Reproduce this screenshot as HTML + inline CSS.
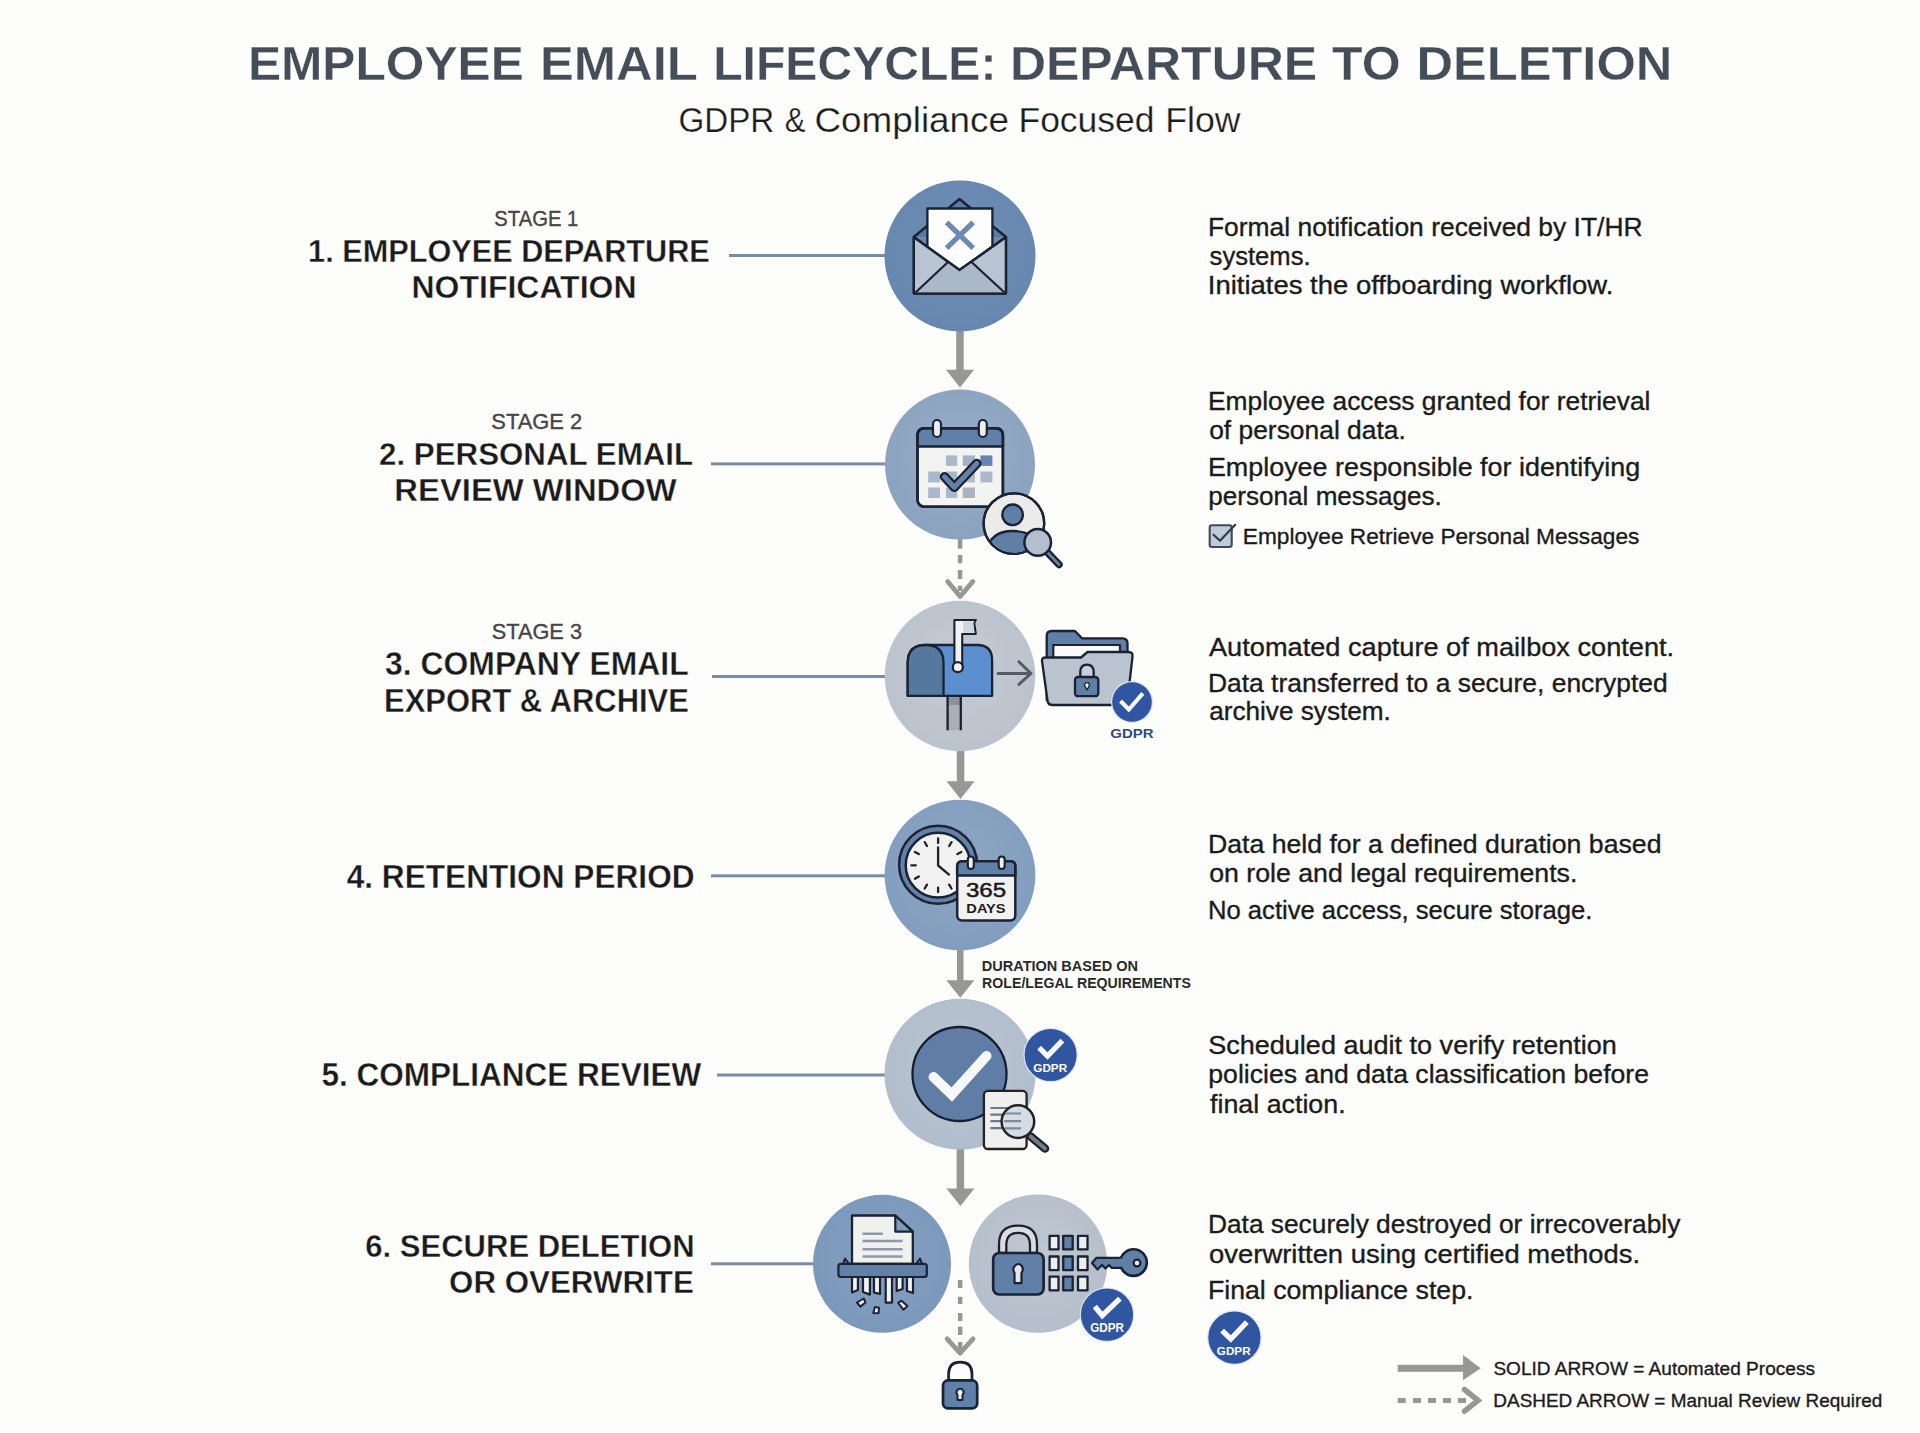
<!DOCTYPE html>
<html><head><meta charset="utf-8"><title>Employee Email Lifecycle</title>
<style>html,body{margin:0;padding:0;background:#fdfdfc;}svg{display:block;}</style></head>
<body><svg width="1920" height="1433" viewBox="0 0 1920 1433">
<rect width="1920" height="1433" fill="#fdfdfc"/>
<rect x="729.0" y="254.0" width="161.0" height="3" fill="#788ca6"/>
<rect x="711.0" y="462.4" width="179.0" height="3" fill="#788ca6"/>
<rect x="712.0" y="675.0" width="178.0" height="3" fill="#788ca6"/>
<rect x="711.0" y="874.3" width="179.0" height="3" fill="#788ca6"/>
<rect x="717.0" y="1073.5" width="173.0" height="3" fill="#788ca6"/>
<rect x="711.0" y="1262.3" width="109.0" height="3" fill="#788ca6"/>
<rect x="956.2" y="328.0" width="7.5" height="42.7" fill="#979797"/><path d="M946.0,369.7 L974.0,369.7 L960.0,387.5 Z" fill="#979797"/>
<rect x="957.8" y="539.0" width="4.5" height="9.7" fill="#979797"/><rect x="957.8" y="555.0" width="4.5" height="8.3" fill="#979797"/><rect x="957.8" y="570.0" width="4.5" height="9.0" fill="#979797"/><rect x="957.8" y="585.7" width="4.5" height="5.3" fill="#979797"/><path d="M947.7,581.5 L960.2,596.5 L972.8,581.5" fill="none" stroke="#979797" stroke-width="4.8" stroke-linecap="round" stroke-linejoin="round"/>
<rect x="956.8" y="748.0" width="7.5" height="34.2" fill="#979797"/><path d="M946.5,781.2 L974.5,781.2 L960.5,798.9 Z" fill="#979797"/>
<rect x="957.0" y="948.0" width="6.5" height="33.2" fill="#979797"/><path d="M946.3,980.2 L974.3,980.2 L960.3,997.8 Z" fill="#979797"/>
<rect x="956.6" y="1147.0" width="7.5" height="42.4" fill="#979797"/><path d="M946.4,1188.4 L974.4,1188.4 L960.4,1206.0 Z" fill="#979797"/>
<rect x="957.9" y="1280.0" width="4.5" height="8.0" fill="#979797"/><rect x="957.9" y="1296.8" width="4.5" height="7.2" fill="#979797"/><rect x="957.9" y="1313.0" width="4.5" height="8.0" fill="#979797"/><rect x="957.9" y="1326.6" width="4.5" height="8.4" fill="#979797"/><rect x="957.9" y="1342.0" width="4.5" height="8.0" fill="#979797"/><path d="M947.2,1338.8 L960.1,1353.2 L973.0,1338.8" fill="none" stroke="#979797" stroke-width="4.8" stroke-linecap="round" stroke-linejoin="round"/>
<defs><radialGradient id="g960256" cx="50%" cy="45%" r="60%"><stop offset="0" stop-color="#7090b5"/><stop offset="1" stop-color="#6586ae"/></radialGradient></defs><circle cx="960.0" cy="256.0" r="75.5" fill="url(#g960256)"/>
<defs><radialGradient id="g960464" cx="50%" cy="45%" r="60%"><stop offset="0" stop-color="#98adc6"/><stop offset="1" stop-color="#8aa2bf"/></radialGradient></defs><circle cx="960.0" cy="464.6" r="75.0" fill="url(#g960464)"/>
<defs><radialGradient id="g960676" cx="50%" cy="45%" r="60%"><stop offset="0" stop-color="#c6ccd5"/><stop offset="1" stop-color="#b9c1cc"/></radialGradient></defs><circle cx="960.0" cy="676.0" r="75.3" fill="url(#g960676)"/>
<defs><radialGradient id="g960875" cx="50%" cy="45%" r="60%"><stop offset="0" stop-color="#8ea7c4"/><stop offset="1" stop-color="#819cbd"/></radialGradient></defs><circle cx="960.0" cy="875.1" r="75.4" fill="url(#g960875)"/>
<defs><radialGradient id="g9601074" cx="50%" cy="45%" r="60%"><stop offset="0" stop-color="#bbc6d3"/><stop offset="1" stop-color="#afbccb"/></radialGradient></defs><circle cx="960.0" cy="1074.2" r="75.5" fill="url(#g9601074)"/>
<defs><radialGradient id="g8821263" cx="50%" cy="45%" r="60%"><stop offset="0" stop-color="#86a0c0"/><stop offset="1" stop-color="#7a97ba"/></radialGradient></defs><circle cx="882.0" cy="1263.8" r="69.0" fill="url(#g8821263)"/>
<defs><radialGradient id="g10381263" cx="50%" cy="45%" r="60%"><stop offset="0" stop-color="#c0c8d2"/><stop offset="1" stop-color="#b4bdc9"/></radialGradient></defs><circle cx="1038.0" cy="1263.6" r="69.2" fill="url(#g10381263)"/>
<g stroke="#1a2233" stroke-width="2.3" stroke-linejoin="round">
<path d="M913.8,237 L959.5,199 L1006,237 Z" fill="#5a7ba4" stroke="none"/>
<path d="M913.8,237 L959.5,199 L1006,237" fill="none"/>
<rect x="927.4" y="208.5" width="65" height="66" fill="#fdfdfd"/>
<path d="M946.6,222.4 L973.2,248.2 M973.2,222.4 L946.6,248.2" stroke="#6d89ae" stroke-width="5.2" stroke-linecap="butt"/>
<path d="M913.8,237 L959.5,270 L1006,237 L1006,293.6 L913.8,293.6 Z" fill="#b8c4d2"/>
<path d="M915.5,292.5 L947.5,262.5 L959.5,270 L972,262.5 L1004.5,292.5 Z" fill="#abb8c8" stroke="none"/>
<path d="M915.5,292.5 L947.5,262.5 M1004.5,292.5 L972,262.5" fill="none" stroke-width="2.2"/>
<path d="M913.8,237 L959.5,270 L1006,237 L1006,293.6 L913.8,293.6 Z" fill="none"/>
</g>
<g stroke="#1a2233" stroke-width="2.5" stroke-linejoin="round">
<rect x="917.5" y="428.2" width="85.4" height="78.6" rx="7" fill="#f3f3f2"/>
<path d="M917.5,446.6 L917.5,435.2 Q917.5,428.2 924.5,428.2 L995.9,428.2 Q1002.9,428.2 1002.9,435.2 L1002.9,446.6 Z" fill="#6080a8"/>
<rect x="917.5" y="428.2" width="85.4" height="78.6" rx="7" fill="none"/>
<rect x="933" y="420" width="8" height="17" rx="4" fill="#eeeeee" stroke-width="2.2"/>
<rect x="978.8" y="420" width="8" height="17" rx="4" fill="#eeeeee" stroke-width="2.2"/>
</g>
<g stroke="none">
<rect x="945.9" y="455.4" width="11.3" height="10.5" fill="#a9b8cb"/>
<rect x="962.7" y="455.4" width="12.3" height="10.5" fill="#a3b2c6"/>
<rect x="980.4" y="455.4" width="12" height="10.5" fill="#6585b0"/>
<rect x="928.2" y="471.5" width="11.8" height="10.9" fill="#a9b8cb"/>
<rect x="945.9" y="471.5" width="11.3" height="10.9" fill="#a9b8cb"/>
<rect x="962.7" y="471.5" width="12.3" height="10.9" fill="#b3bac4"/>
<rect x="980.4" y="471.5" width="12" height="10.9" fill="#a9b8cb"/>
<rect x="928.2" y="487.5" width="11.8" height="10.5" fill="#a9b8cb"/>
<rect x="945.9" y="487.5" width="11.3" height="10.5" fill="#a9b8cb"/>
<rect x="962.7" y="487.5" width="12.3" height="10.5" fill="#aab2bd"/>
</g>
<path d="M944.5,476.8 L954.3,487.3 L976.8,463.5" fill="none" stroke="#1a2233" stroke-width="9.5" stroke-linecap="round" stroke-linejoin="round"/>
<path d="M944.5,476.8 L954.3,487.3 L976.8,463.5" fill="none" stroke="#6282aa" stroke-width="5" stroke-linecap="round" stroke-linejoin="round"/>
<defs><clipPath id="bclip"><circle cx="1013.9" cy="523.6" r="29"/></clipPath></defs>
<circle cx="1013.9" cy="523.6" r="30.3" fill="#ebebea" stroke="#1a2233" stroke-width="2.3"/>
<g clip-path="url(#bclip)" stroke="#1a2233" stroke-width="2.3">
<path d="M986,552 Q990,531 1013,531 Q1036,531 1041,552 L1041,560 L986,560 Z" fill="#5f7fa6"/>
</g>
<circle cx="1013.9" cy="523.6" r="30.3" fill="none" stroke="#1a2233" stroke-width="2.3"/>
<circle cx="1012.6" cy="514.8" r="10.3" fill="#5f7fa6" stroke="#1a2233" stroke-width="2.3"/>
<path d="M1047.5,552.5 L1059,564.5" stroke="#1a2233" stroke-width="7.5" stroke-linecap="round"/>
<path d="M1047.5,552.5 L1059,564.5" stroke="#6b84a6" stroke-width="2.7" stroke-linecap="round"/>
<circle cx="1037.7" cy="542.4" r="13.3" fill="#b3bfcd" stroke="#1a2233" stroke-width="2.5"/>

<g stroke="#1a2233" stroke-width="2.3" stroke-linejoin="round">
<rect x="947.6" y="696" width="13.2" height="34.2" fill="#a9afb6" stroke="none"/>
<rect x="947.6" y="696" width="13.2" height="9" fill="#8c9299" stroke="none"/>
<path d="M947.6,696 L947.6,730.2 M960.8,696 L960.8,730.2" fill="none"/>
<path d="M907.7,695.8 L907.7,663 Q907.7,645 925.7,645 L977,645 Q992.1,645 992.1,660 L992.1,695.8 Z" fill="#5b8fcf"/>
<path d="M907.7,695.8 L907.7,663 Q907.7,645 925.6,645 Q943.5,645 943.5,663 L943.5,695.8 Z" fill="#55789f"/>
<path d="M954.4,667 L954.4,620 L975.8,620 L974.2,623 L975.8,634 L962.2,634 L962.2,667 Z" fill="#f3f3f3" stroke-width="2.1"/>
<path d="M963.2,621.2 L974.5,621.2 L973.2,623.2 L974.5,632.8 L963.2,632.8 Z" fill="#d0d5dc" stroke="none"/>
<circle cx="957.8" cy="667.2" r="5" fill="#f3f3f3" stroke-width="2.3"/>
</g>
<path d="M998,673.5 L1030.5,673.5 M1018.9,661.7 L1031,673.5 L1018.9,684.4" fill="none" stroke="#555b62" stroke-width="3" stroke-linecap="round" stroke-linejoin="round"/>
<g stroke="#1a2233" stroke-width="2.3" stroke-linejoin="round">
<path d="M1046.7,700 L1046.7,636 Q1046.7,631 1051.7,631 L1075,631 L1082,638.3 L1122.5,638.3 Q1127.5,638.3 1127.5,643.3 L1127.5,700 Z" fill="#5f7fa6"/>
<rect x="1053.3" y="645" width="66.7" height="30" fill="#fafafa" stroke-width="2.2"/>
<path d="M1042,661 Q1041.7,657.5 1045.5,657.5 L1081,657.5 L1087.5,652 L1128.5,652 Q1133,652 1132.5,656.5 L1127.5,700.5 Q1127,705 1122.5,705 L1052.5,705 Q1048,705 1047.5,700.5 Z" fill="#bac4cf"/>
<path d="M1080.3,678.5 L1080.3,672.5 Q1080.3,664.6 1087,664.6 Q1093.7,664.6 1093.7,672.5 L1093.7,678.5" fill="#c9d0d9" stroke-width="2.3"/>
<rect x="1075" y="677" width="23.3" height="19.2" rx="3" fill="#5f7fa6" stroke-width="2.3"/>
<path d="M1087,690 L1084.8,686 A2.4,2.4 0 1 1 1089.2,686 Z" fill="#eeeeee" stroke-width="1.4"/>
</g>

<circle cx="1132.0" cy="702.0" r="20.4" fill="#3156a1" stroke="#dfe6f2" stroke-width="1.2"/><path d="M1122.0,702.5 L1128.8,709.5 L1141.5,695.0" fill="none" stroke="#f7f9fc" stroke-width="4.1" stroke-linecap="square" stroke-linejoin="miter"/>
<circle cx="938.1" cy="864.8" r="39" fill="#6481a8" stroke="#1a2233" stroke-width="2.5"/>
<circle cx="938.1" cy="865.2" r="32.4" fill="#f1f1f1" stroke="#1a2233" stroke-width="2.5"/>
<path d="M938.1,843.0 L938.1,838.5 M949.2,846.0 L951.5,842.1 M957.4,854.1 L961.3,851.9 M960.4,865.3 L964.9,865.3 M957.4,876.4 L961.3,878.7 M949.2,884.6 L951.5,888.5 M938.1,887.6 L938.1,892.1 M927.0,884.6 L924.7,888.5 M918.8,876.4 L914.9,878.7 M915.8,865.3 L911.3,865.3 M918.8,854.1 L914.9,851.9 M927.0,846.0 L924.7,842.1 " stroke="#222" stroke-width="2.3" stroke-linecap="round"/>
<path d="M938.1,865.5 L938.1,847.3 M938.1,865.5 L949,874.6" stroke="#222" stroke-width="2.3" stroke-linecap="round" fill="none"/>
<g stroke="#1a2233" stroke-width="2.5" stroke-linejoin="round">
<rect x="957.2" y="861.2" width="58.1" height="59.3" rx="5" fill="#f2f2f2"/>
<path d="M957.2,875.4 L957.2,866.2 Q957.2,861.2 962.2,861.2 L1010.3,861.2 Q1015.3,861.2 1015.3,866.2 L1015.3,875.4 Z" fill="#6080a8"/>
<rect x="967.8" y="856.5" width="6" height="12.5" rx="3" fill="#f0f0f0" stroke-width="2.2"/>
<rect x="998.7" y="856.5" width="6" height="12.5" rx="3" fill="#f0f0f0" stroke-width="2.2"/>
</g>

<circle cx="959.5" cy="1074" r="47" fill="#5f7da5" stroke="#141e30" stroke-width="2.3"/>
<path d="M933.5,1077 L951.8,1094.5 L986.5,1056" fill="none" stroke="#f8f9fa" stroke-width="10" stroke-linecap="round" stroke-linejoin="miter"/>
<rect x="983.9" y="1090.8" width="42.7" height="58.2" rx="4" fill="#efefed" stroke="#222" stroke-width="2.3"/>
<path d="M990.4,1108 L1016,1108 M990.4,1114.6 L1020.6,1114.6 M990.4,1121.1 L1020.6,1121.1 M990.4,1128.2 L1020.6,1128.2" stroke="#6c7a8a" stroke-width="2.2"/>
<path d="M1030.7,1136.5 L1045,1148.5" stroke="#222" stroke-width="8.5" stroke-linecap="round"/>
<path d="M1030.7,1136.5 L1045,1148.5" stroke="#717e8e" stroke-width="4" stroke-linecap="round"/>
<circle cx="1017.9" cy="1121.6" r="16.3" fill="#d3dde7" stroke="#222" stroke-width="2.5"/>
<path d="M1005,1113.5 L1021,1113.5 M1004,1121.1 L1021,1121.1 M1005,1128.4 L1021,1128.4" stroke="#7d8b9b" stroke-width="2.2"/>

<circle cx="1050.6" cy="1055.0" r="26.6" fill="#3156a1" stroke="#dfe6f2" stroke-width="1.2"/><path d="M1041.0,1049.5 L1047.5,1056.0 L1060.5,1042.5" fill="none" stroke="#f7f9fc" stroke-width="5.3" stroke-linecap="square" stroke-linejoin="miter"/>
<g stroke="#1a2233" stroke-width="2.3" stroke-linejoin="round">
<path d="M852,1264 L852,1215.5 L895.3,1215.5 L912.8,1231.6 L912.8,1264 Z" fill="#f0f0ed"/>
<path d="M895.3,1215.5 L895.3,1231.6 L912.8,1231.6 Z" fill="#7f9bbd" stroke-width="2.2"/>
</g>
<path d="M862.5,1233.8 L882.7,1233.8 M862.5,1241.1 L902.6,1241.1 M862.5,1249.2 L902.6,1249.2 M862.5,1256.5 L902.6,1256.5" stroke="#8e97ad" stroke-width="2.5"/>
<g stroke="#1a2233" stroke-width="2.2" stroke-linejoin="round">
<path d="M852,1277 L852,1292.4 L857.9,1290 L857.9,1277 Z" fill="#f2f2f2"/>
<path d="M863,1277 L863,1292 L869.9,1294.6 L869.9,1277 Z" fill="#f2f2f2"/>
<path d="M874,1277 L874,1292.5 L880,1293.9 L880,1277 Z" fill="#f2f2f2"/>
<path d="M885.7,1277 L885.7,1302.7 L892,1302.7 L892,1277 Z" fill="#f2f2f2"/>
<path d="M896.7,1277 L896.7,1291 L902.6,1289 L902.6,1277 Z" fill="#f2f2f2"/>
<path d="M907,1277 L907,1291 L913,1293 L913,1277 Z" fill="#f2f2f2"/>
<path d="M857,1302.5 L863.7,1298.5 L865.5,1302.5 L860.3,1306.6 Z" fill="#f2f2f2" stroke-width="2"/>
<path d="M873.3,1313 L874.9,1307 L879,1307.7 L878.6,1313.3 Z" fill="#f2f2f2" stroke-width="2"/>
<path d="M898.2,1302.9 L901.6,1300.7 L907.4,1306.1 L903.4,1309.7 Z" fill="#f2f2f2" stroke-width="2"/>
<path d="M843,1263.8 L845,1258.5 L849,1263.8 M922,1263.8 L920,1258.5 L916,1263.8" fill="#6080a8" stroke-width="2"/>
<rect x="838.4" y="1263.8" width="88.4" height="13.2" rx="2.5" fill="#6080a8"/>
</g>

<g stroke="#1a2233" stroke-width="2.3" stroke-linejoin="round">
<path d="M999,1253 L999,1244 Q999,1225.7 1018,1225.7 Q1037,1225.7 1037,1244 L1037,1253 L1030,1253 L1030,1245 Q1030,1232.8 1018,1232.8 Q1006.3,1232.8 1006.3,1245 L1006.3,1253 Z" fill="#dcdcdc"/>
<rect x="993.2" y="1253" width="50.4" height="41.5" rx="6" fill="#6080a8" stroke-width="2.7"/>
<path d="M1014.5,1273 Q1012.5,1269.6 1014,1267 Q1016,1264 1018.1,1264 Q1021,1264 1022.3,1267 Q1023.5,1270 1021.5,1273 L1021.5,1283.2 L1014.5,1283.2 Z" fill="#e6e6e6" stroke-width="2.2"/>
<rect x="1049.6" y="1235.8" width="8.9" height="13.6" fill="#eeeeee"/><rect x="1049.6" y="1256.5" width="8.9" height="13.7" fill="#eeeeee"/><rect x="1049.6" y="1276.7" width="8.9" height="13.6" fill="#eeeeee"/><rect x="1063.2" y="1235.8" width="9.5" height="13.6" fill="#5f7fa6"/><rect x="1063.2" y="1256.5" width="9.5" height="13.7" fill="#5f7fa6"/><rect x="1063.2" y="1276.7" width="9.5" height="13.6" fill="#5f7fa6"/><rect x="1078.0" y="1235.8" width="9.5" height="13.6" fill="#eeeeee"/><rect x="1078.0" y="1256.5" width="9.5" height="13.7" fill="#eeeeee"/><rect x="1078.0" y="1276.7" width="9.5" height="13.6" fill="#eeeeee"/>
<path d="M1092,1263 L1096.5,1257.8 L1122,1257.8 L1122,1267.8 L1111.5,1267.8 L1109,1265 L1105.5,1268.5 L1102,1265 L1097.5,1269.5 Z" fill="#6080a8" stroke-width="2.2"/>
<circle cx="1133.5" cy="1262.6" r="13.3" fill="#6080a8" stroke-width="2.6"/>
<path d="M1120.5,1258.6 L1120.5,1266.8" stroke="#6080a8" stroke-width="3.5"/>
<circle cx="1137" cy="1263" r="3.4" fill="#f2f2f2" stroke-width="2.2"/>
</g>

<circle cx="1107.0" cy="1314.7" r="26.7" fill="#3156a1" stroke="#dfe6f2" stroke-width="1.2"/><path d="M1096.5,1308.5 L1102.3,1315.5 L1118.0,1300.5" fill="none" stroke="#f7f9fc" stroke-width="5.3" stroke-linecap="square" stroke-linejoin="miter"/>
<g stroke="#1a2233" stroke-width="2.7" stroke-linejoin="round">
<path d="M948.6,1381 L948.6,1374 Q948.6,1362.2 960.3,1362.2 Q972,1362.2 972,1374 L972,1381" fill="none"/>
<rect x="943" y="1380.4" width="34.2" height="27.9" rx="5" fill="#5f80a8"/>
<path d="M957.5,1395 Q955.5,1392.5 957,1390.5 Q958.5,1388.8 960.1,1388.8 Q962,1388.8 963.2,1390.5 Q964.5,1392.5 962.5,1395 L962.5,1400 L957.5,1400 Z" fill="#f0f0f0" stroke-width="2"/>
</g>

<rect x="1209.7" y="525.2" width="22" height="21.8" rx="2.2" fill="#bfcbd8" stroke="#3f4959" stroke-width="2.1"/>
<path d="M1213.5,534.8 L1220,540.8 L1235.2,524.8" fill="none" stroke="#2f3b4c" stroke-width="2.2" stroke-linecap="round" stroke-linejoin="round"/>
<circle cx="1234.4" cy="1337.6" r="26.7" fill="#3156a1" stroke="#dfe6f2" stroke-width="1.2"/><path d="M1224.0,1332.5 L1230.8,1339.0 L1245.0,1324.0" fill="none" stroke="#f7f9fc" stroke-width="5.3" stroke-linecap="square" stroke-linejoin="miter"/>
<rect x="1397.7" y="1364.8" width="67" height="7" fill="#979797"/>
<path d="M1463,1354.9 L1480.7,1368.3 L1463,1380.2 Z" fill="#979797"/>
<rect x="1397.7" y="1398" width="8" height="5" fill="#979797"/>
<rect x="1413.0" y="1398" width="8" height="5" fill="#979797"/>
<rect x="1428.0" y="1398" width="8" height="5" fill="#979797"/>
<rect x="1443.0" y="1398" width="8" height="5" fill="#979797"/>
<rect x="1458.0" y="1398" width="8" height="5" fill="#979797"/>
<path d="M1464.5,1389.5 L1478,1400.4 L1464.5,1411.2" fill="none" stroke="#979797" stroke-width="5.5" stroke-linecap="round"/>
<g font-family="&quot;Liberation Sans&quot;, sans-serif">
<text x="247.90" y="80.20" font-size="48.69" font-weight="bold" fill="#444d58" textLength="275.91" lengthAdjust="spacingAndGlyphs" stroke="#fdfdfc" stroke-width="0.35">EMPLOYEE</text>
<text x="539.93" y="80.20" font-size="48.69" font-weight="bold" fill="#444d58" textLength="157.84" lengthAdjust="spacingAndGlyphs" stroke="#fdfdfc" stroke-width="0.35">EMAIL</text>
<text x="713.24" y="80.20" font-size="48.69" font-weight="bold" fill="#444d58" textLength="283.25" lengthAdjust="spacingAndGlyphs" stroke="#fdfdfc" stroke-width="0.35">LIFECYCLE:</text>
<text x="1009.98" y="80.20" font-size="48.69" font-weight="bold" fill="#444d58" textLength="307.14" lengthAdjust="spacingAndGlyphs" stroke="#fdfdfc" stroke-width="0.35">DEPARTURE</text>
<text x="1332.10" y="80.20" font-size="48.69" font-weight="bold" fill="#444d58" textLength="68.49" lengthAdjust="spacingAndGlyphs" stroke="#fdfdfc" stroke-width="0.35">TO</text>
<text x="1416.44" y="80.20" font-size="48.69" font-weight="bold" fill="#444d58" textLength="255.90" lengthAdjust="spacingAndGlyphs" stroke="#fdfdfc" stroke-width="0.35">DELETION</text>
<text x="678.45" y="131.60" font-size="34.30" font-weight="normal" fill="#1c1c1c" textLength="95.80" lengthAdjust="spacingAndGlyphs" stroke="#fdfdfc" stroke-width="0.25">GDPR</text>
<text x="784.63" y="131.60" font-size="34.30" font-weight="normal" fill="#1c1c1c" textLength="20.70" lengthAdjust="spacingAndGlyphs" stroke="#fdfdfc" stroke-width="0.25">&amp;</text>
<text x="814.52" y="131.60" font-size="34.30" font-weight="normal" fill="#1c1c1c" textLength="194.47" lengthAdjust="spacingAndGlyphs" stroke="#fdfdfc" stroke-width="0.25">Compliance</text>
<text x="1018.48" y="131.60" font-size="34.30" font-weight="normal" fill="#1c1c1c" textLength="136.01" lengthAdjust="spacingAndGlyphs" stroke="#fdfdfc" stroke-width="0.25">Focused</text>
<text x="1165.32" y="131.60" font-size="34.30" font-weight="normal" fill="#1c1c1c" textLength="75.25" lengthAdjust="spacingAndGlyphs" stroke="#fdfdfc" stroke-width="0.25">Flow</text>
<text x="494.37" y="225.90" font-size="22.24" font-weight="normal" fill="#454545" textLength="83.95" lengthAdjust="spacingAndGlyphs" stroke="#454545" stroke-width="0.35">STAGE 1</text>
<text x="308.08" y="262.00" font-size="31.98" font-weight="bold" fill="#1b1b1b" textLength="401.73" lengthAdjust="spacingAndGlyphs" stroke="#fdfdfc" stroke-width="0.35">1. EMPLOYEE DEPARTURE</text>
<text x="411.50" y="298.40" font-size="31.69" font-weight="bold" fill="#1b1b1b" textLength="225.01" lengthAdjust="spacingAndGlyphs" stroke="#fdfdfc" stroke-width="0.35">NOTIFICATION</text>
<text x="491.31" y="428.80" font-size="21.95" font-weight="normal" fill="#454545" textLength="90.97" lengthAdjust="spacingAndGlyphs" stroke="#454545" stroke-width="0.35">STAGE 2</text>
<text x="379.02" y="464.70" font-size="31.83" font-weight="bold" fill="#1b1b1b" textLength="314.11" lengthAdjust="spacingAndGlyphs" stroke="#fdfdfc" stroke-width="0.35">2. PERSONAL EMAIL</text>
<text x="394.35" y="501.20" font-size="31.83" font-weight="bold" fill="#1b1b1b" textLength="282.45" lengthAdjust="spacingAndGlyphs" stroke="#fdfdfc" stroke-width="0.35">REVIEW WINDOW</text>
<text x="491.82" y="639.20" font-size="21.80" font-weight="normal" fill="#454545" textLength="90.16" lengthAdjust="spacingAndGlyphs" stroke="#454545" stroke-width="0.35">STAGE 3</text>
<text x="385.00" y="675.30" font-size="32.70" font-weight="bold" fill="#1b1b1b" textLength="303.64" lengthAdjust="spacingAndGlyphs" stroke="#fdfdfc" stroke-width="0.35">3. COMPANY EMAIL</text>
<text x="384.07" y="712.10" font-size="33.14" font-weight="bold" fill="#1b1b1b" textLength="304.84" lengthAdjust="spacingAndGlyphs" stroke="#fdfdfc" stroke-width="0.35">EXPORT &amp; ARCHIVE</text>
<text x="346.70" y="887.50" font-size="33.28" font-weight="bold" fill="#1b1b1b" textLength="347.90" lengthAdjust="spacingAndGlyphs" stroke="#fdfdfc" stroke-width="0.35">4. RETENTION PERIOD</text>
<text x="321.51" y="1086.40" font-size="34.01" font-weight="bold" fill="#1b1b1b" textLength="379.80" lengthAdjust="spacingAndGlyphs" stroke="#fdfdfc" stroke-width="0.35">5. COMPLIANCE REVIEW</text>
<text x="365.33" y="1257.00" font-size="31.98" font-weight="bold" fill="#1b1b1b" textLength="329.21" lengthAdjust="spacingAndGlyphs" stroke="#fdfdfc" stroke-width="0.35">6. SECURE DELETION</text>
<text x="449.02" y="1293.00" font-size="31.54" font-weight="bold" fill="#1b1b1b" textLength="244.80" lengthAdjust="spacingAndGlyphs" stroke="#fdfdfc" stroke-width="0.35">OR OVERWRITE</text>
<text x="1207.94" y="236.00" font-size="25.87" font-weight="normal" fill="#1b1b1b" textLength="434.68" lengthAdjust="spacingAndGlyphs" stroke="#1b1b1b" stroke-width="0.35">Formal notification received by IT/HR</text>
<text x="1209.60" y="265.20" font-size="25.87" font-weight="normal" fill="#1b1b1b" textLength="101.01" lengthAdjust="spacingAndGlyphs" stroke="#1b1b1b" stroke-width="0.35">systems.</text>
<text x="1207.86" y="294.40" font-size="25.00" font-weight="normal" fill="#1b1b1b" textLength="405.42" lengthAdjust="spacingAndGlyphs" stroke="#1b1b1b" stroke-width="0.35">Initiates the offboarding workflow.</text>
<text x="1207.94" y="410.20" font-size="25.58" font-weight="normal" fill="#1b1b1b" textLength="442.55" lengthAdjust="spacingAndGlyphs" stroke="#1b1b1b" stroke-width="0.35">Employee access granted for retrieval</text>
<text x="1209.18" y="439.00" font-size="25.87" font-weight="normal" fill="#1b1b1b" textLength="196.61" lengthAdjust="spacingAndGlyphs" stroke="#1b1b1b" stroke-width="0.35">of personal data.</text>
<text x="1207.90" y="476.10" font-size="25.58" font-weight="normal" fill="#1b1b1b" textLength="432.21" lengthAdjust="spacingAndGlyphs" stroke="#1b1b1b" stroke-width="0.35">Employee responsible for identifying</text>
<text x="1208.37" y="505.00" font-size="25.87" font-weight="normal" fill="#1b1b1b" textLength="233.39" lengthAdjust="spacingAndGlyphs" stroke="#1b1b1b" stroke-width="0.35">personal messages.</text>
<text x="1242.83" y="544.00" font-size="22.97" font-weight="normal" fill="#1b1b1b" textLength="396.48" lengthAdjust="spacingAndGlyphs" stroke="#1b1b1b" stroke-width="0.35">Employee Retrieve Personal Messages</text>
<text x="1209.00" y="655.70" font-size="26.45" font-weight="normal" fill="#1b1b1b" textLength="465.15" lengthAdjust="spacingAndGlyphs" stroke="#1b1b1b" stroke-width="0.35">Automated capture of mailbox content.</text>
<text x="1207.94" y="691.70" font-size="25.73" font-weight="normal" fill="#1b1b1b" textLength="459.85" lengthAdjust="spacingAndGlyphs" stroke="#1b1b1b" stroke-width="0.35">Data transferred to a secure, encrypted</text>
<text x="1209.18" y="720.30" font-size="25.87" font-weight="normal" fill="#1b1b1b" textLength="181.68" lengthAdjust="spacingAndGlyphs" stroke="#1b1b1b" stroke-width="0.35">archive system.</text>
<text x="1207.92" y="853.10" font-size="25.73" font-weight="normal" fill="#1b1b1b" textLength="453.58" lengthAdjust="spacingAndGlyphs" stroke="#1b1b1b" stroke-width="0.35">Data held for a defined duration based</text>
<text x="1209.17" y="882.30" font-size="25.87" font-weight="normal" fill="#1b1b1b" textLength="368.25" lengthAdjust="spacingAndGlyphs" stroke="#1b1b1b" stroke-width="0.35">on role and legal requirements.</text>
<text x="1208.00" y="919.30" font-size="25.73" font-weight="normal" fill="#1b1b1b" textLength="384.31" lengthAdjust="spacingAndGlyphs" stroke="#1b1b1b" stroke-width="0.35">No active access, secure storage.</text>
<text x="1208.16" y="1054.20" font-size="25.73" font-weight="normal" fill="#1b1b1b" textLength="408.76" lengthAdjust="spacingAndGlyphs" stroke="#1b1b1b" stroke-width="0.35">Scheduled audit to verify retention</text>
<text x="1208.34" y="1083.30" font-size="25.87" font-weight="normal" fill="#1b1b1b" textLength="440.64" lengthAdjust="spacingAndGlyphs" stroke="#1b1b1b" stroke-width="0.35">policies and data classification before</text>
<text x="1210.00" y="1112.50" font-size="25.87" font-weight="normal" fill="#1b1b1b" textLength="135.62" lengthAdjust="spacingAndGlyphs" stroke="#1b1b1b" stroke-width="0.35">final action.</text>
<text x="1207.94" y="1233.20" font-size="25.44" font-weight="normal" fill="#1b1b1b" textLength="472.36" lengthAdjust="spacingAndGlyphs" stroke="#1b1b1b" stroke-width="0.35">Data securely destroyed or irrecoverably</text>
<text x="1209.14" y="1262.50" font-size="25.87" font-weight="normal" fill="#1b1b1b" textLength="430.93" lengthAdjust="spacingAndGlyphs" stroke="#1b1b1b" stroke-width="0.35">overwritten using certified methods.</text>
<text x="1207.92" y="1298.70" font-size="25.87" font-weight="normal" fill="#1b1b1b" textLength="265.50" lengthAdjust="spacingAndGlyphs" stroke="#1b1b1b" stroke-width="0.35">Final compliance step.</text>
<text x="981.79" y="970.50" font-size="15.41" font-weight="bold" fill="#2a2a2a" textLength="156.16" lengthAdjust="spacingAndGlyphs">DURATION BASED ON</text>
<text x="982.12" y="987.70" font-size="14.83" font-weight="bold" fill="#2a2a2a" textLength="208.76" lengthAdjust="spacingAndGlyphs">ROLE/LEGAL REQUIREMENTS</text>
<text x="1493.41" y="1375.00" font-size="18.90" font-weight="normal" fill="#1b1b1b" textLength="321.58" lengthAdjust="spacingAndGlyphs" stroke="#1b1b1b" stroke-width="0.35">SOLID ARROW = Automated Process</text>
<text x="1493.32" y="1407.00" font-size="18.46" font-weight="normal" fill="#1b1b1b" textLength="389.04" lengthAdjust="spacingAndGlyphs" stroke="#1b1b1b" stroke-width="0.35">DASHED ARROW = Manual Review Required</text>
<text x="1110.33" y="738.30" font-size="13.23" font-weight="bold" fill="#2d4a80" textLength="43.25" lengthAdjust="spacingAndGlyphs">GDPR</text>
<text x="1033.33" y="1071.80" font-size="11.19" font-weight="bold" fill="#ffffff" textLength="33.79" lengthAdjust="spacingAndGlyphs">GDPR</text>
<text x="1090.13" y="1331.80" font-size="12.06" font-weight="bold" fill="#ffffff" textLength="33.79" lengthAdjust="spacingAndGlyphs">GDPR</text>
<text x="1216.83" y="1354.70" font-size="11.48" font-weight="bold" fill="#ffffff" textLength="33.79" lengthAdjust="spacingAndGlyphs">GDPR</text>
<text x="965.95" y="897.40" font-size="19.91" font-weight="normal" fill="#1b1b1b" textLength="40.23" lengthAdjust="spacingAndGlyphs" stroke="#1b1b1b" stroke-width="0.5">365</text>
<text x="966.39" y="912.80" font-size="12.94" font-weight="bold" fill="#1b1b1b" textLength="39.20" lengthAdjust="spacingAndGlyphs">DAYS</text>
</g>
</svg></body></html>
